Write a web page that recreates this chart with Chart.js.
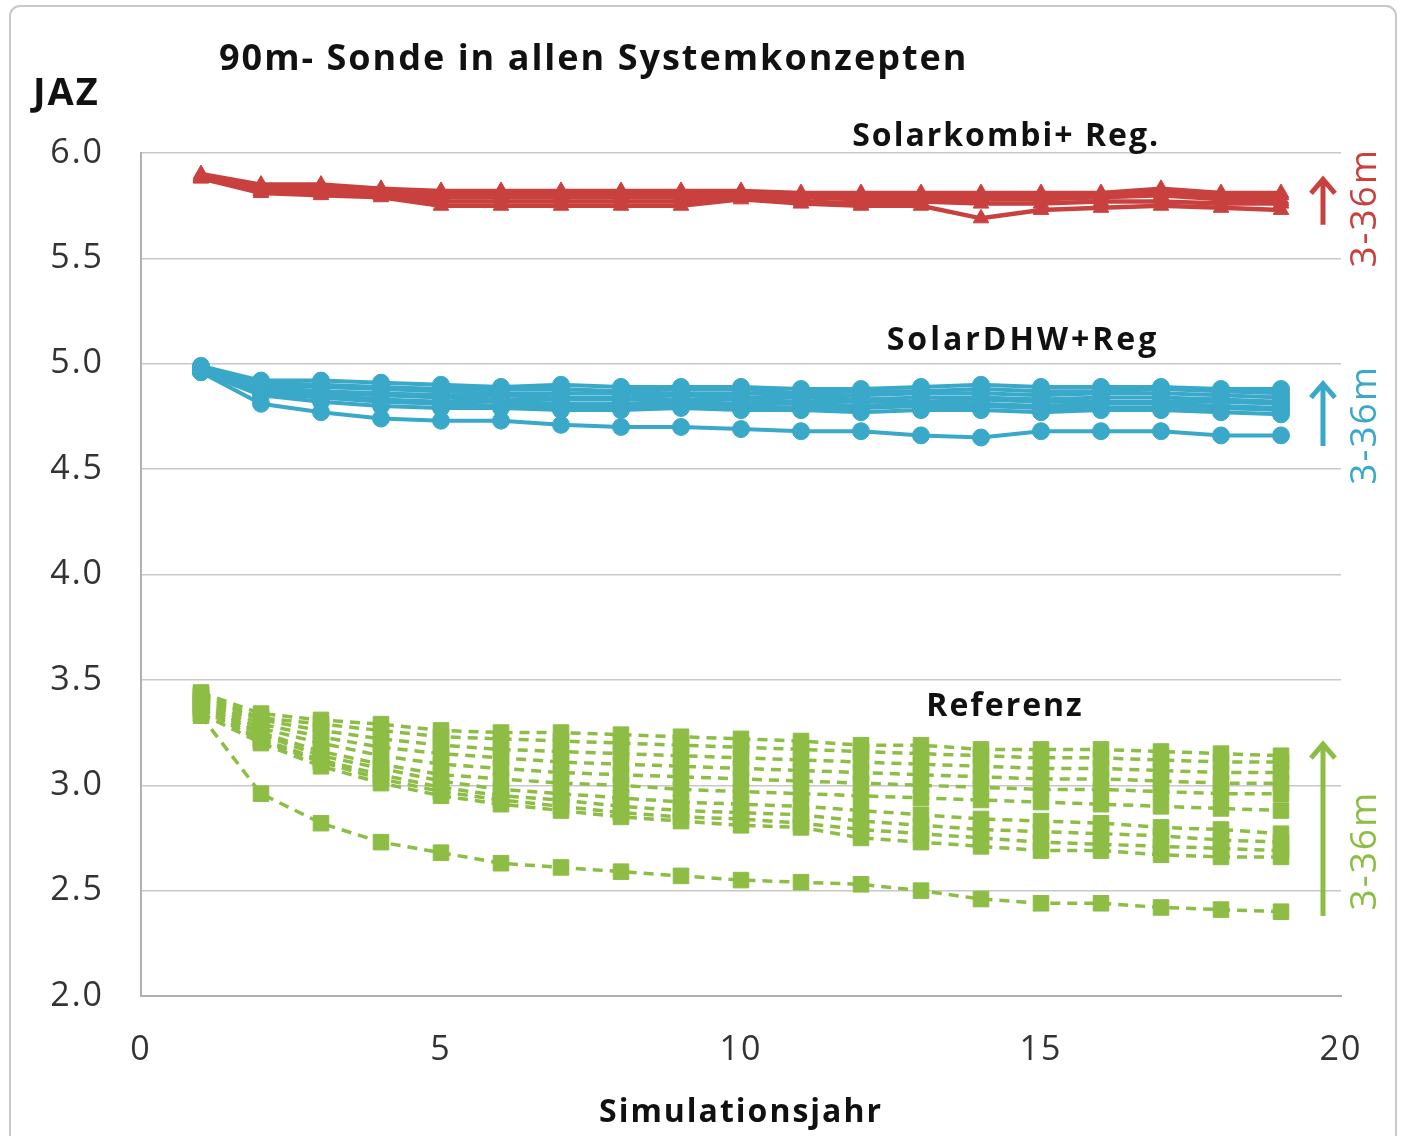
<!DOCTYPE html>
<html>
<head>
<meta charset="utf-8">
<script src="https://cdn.jsdelivr.net/npm/chart.js@4.4.1/dist/chart.umd.min.js"></script>
<style>
  html, body { margin: 0; padding: 0; background: #fff; }
  canvas { display: block; }
</style>
</head>
<body>
<canvas id="myChart" width="1401" height="1136"></canvas>
<script>
// Simulationsjahr 1..19
const years = [1, 2, 3, 4, 5, 6, 7, 8, 9, 10, 11, 12, 13, 14, 15, 16, 17, 18, 19];
const xTicks = [0, 5, 10, 15, 20];
const yTicks = [2.0, 2.5, 3.0, 3.5, 4.0, 4.5, 5.0, 5.5, 6.0];

// Solarkombi+ Reg. (triangles)
const red1 = [5.90, 5.85, 5.85, 5.83, 5.82, 5.82, 5.82, 5.82, 5.82, 5.82, 5.81, 5.81, 5.81, 5.81, 5.81, 5.81, 5.83, 5.81, 5.81];
const red2 = [5.89, 5.84, 5.84, 5.82, 5.81, 5.81, 5.81, 5.81, 5.81, 5.81, 5.80, 5.80, 5.80, 5.80, 5.80, 5.80, 5.82, 5.80, 5.80];
const red3 = [5.89, 5.83, 5.83, 5.81, 5.80, 5.80, 5.80, 5.80, 5.80, 5.80, 5.80, 5.79, 5.79, 5.79, 5.79, 5.80, 5.81, 5.79, 5.78];
const red4 = [5.88, 5.82, 5.82, 5.80, 5.79, 5.79, 5.79, 5.79, 5.79, 5.79, 5.79, 5.78, 5.78, 5.78, 5.78, 5.79, 5.80, 5.78, 5.77];
const red5 = [5.88, 5.82, 5.81, 5.80, 5.77, 5.77, 5.77, 5.77, 5.77, 5.79, 5.77, 5.76, 5.77, 5.76, 5.76, 5.77, 5.77, 5.76, 5.76];
const red6 = [5.88, 5.81, 5.80, 5.79, 5.75, 5.75, 5.75, 5.75, 5.75, 5.78, 5.76, 5.75, 5.75, 5.69, 5.73, 5.74, 5.75, 5.74, 5.73];

// SolarDHW+Reg (circles)
const blue1 = [4.99, 4.92, 4.92, 4.91, 4.90, 4.89, 4.90, 4.89, 4.89, 4.89, 4.88, 4.88, 4.89, 4.90, 4.89, 4.89, 4.89, 4.88, 4.88];
const blue2 = [4.98, 4.91, 4.90, 4.89, 4.88, 4.88, 4.88, 4.87, 4.88, 4.88, 4.86, 4.87, 4.87, 4.88, 4.87, 4.87, 4.88, 4.87, 4.86];
const blue3 = [4.98, 4.90, 4.89, 4.88, 4.87, 4.86, 4.86, 4.86, 4.86, 4.86, 4.85, 4.85, 4.86, 4.86, 4.85, 4.86, 4.86, 4.85, 4.84];
const blue4 = [4.97, 4.89, 4.87, 4.86, 4.85, 4.85, 4.84, 4.84, 4.85, 4.84, 4.84, 4.83, 4.84, 4.84, 4.83, 4.84, 4.84, 4.83, 4.82];
const blue5 = [4.97, 4.88, 4.86, 4.85, 4.84, 4.83, 4.83, 4.83, 4.83, 4.83, 4.82, 4.82, 4.82, 4.83, 4.82, 4.82, 4.82, 4.82, 4.81];
const blue6 = [4.97, 4.87, 4.85, 4.83, 4.82, 4.82, 4.81, 4.81, 4.82, 4.81, 4.81, 4.80, 4.81, 4.81, 4.80, 4.81, 4.81, 4.80, 4.79];
const blue7 = [4.97, 4.86, 4.84, 4.82, 4.81, 4.80, 4.80, 4.80, 4.80, 4.80, 4.79, 4.79, 4.80, 4.80, 4.79, 4.79, 4.79, 4.79, 4.78];
const blue8 = [4.96, 4.85, 4.82, 4.80, 4.79, 4.79, 4.78, 4.78, 4.79, 4.78, 4.78, 4.77, 4.78, 4.78, 4.77, 4.78, 4.78, 4.77, 4.76];
const blue9 = [4.96, 4.81, 4.77, 4.74, 4.73, 4.73, 4.71, 4.70, 4.70, 4.69, 4.68, 4.68, 4.66, 4.65, 4.68, 4.68, 4.68, 4.66, 4.66];

// Referenz (squares, dashed)
const green1 = [3.44, 3.34, 3.31, 3.29, 3.26, 3.25, 3.25, 3.24, 3.23, 3.22, 3.21, 3.19, 3.19, 3.17, 3.17, 3.17, 3.16, 3.15, 3.14];
const green2 = [3.43, 3.32, 3.29, 3.26, 3.23, 3.22, 3.21, 3.20, 3.19, 3.18, 3.17, 3.16, 3.15, 3.14, 3.13, 3.13, 3.12, 3.11, 3.11];
const green3 = [3.42, 3.31, 3.26, 3.22, 3.19, 3.17, 3.16, 3.15, 3.14, 3.13, 3.12, 3.11, 3.10, 3.09, 3.08, 3.08, 3.07, 3.06, 3.06];
const green4 = [3.41, 3.29, 3.23, 3.18, 3.15, 3.13, 3.11, 3.10, 3.09, 3.08, 3.07, 3.06, 3.05, 3.04, 3.03, 3.03, 3.02, 3.01, 3.01];
const green5 = [3.40, 3.27, 3.20, 3.14, 3.10, 3.08, 3.06, 3.05, 3.04, 3.03, 3.02, 3.01, 3.00, 2.99, 2.98, 2.98, 2.97, 2.96, 2.96];
const green6 = [3.39, 3.25, 3.16, 3.10, 3.05, 3.03, 3.01, 3.00, 2.98, 2.97, 2.96, 2.95, 2.94, 2.93, 2.92, 2.91, 2.90, 2.89, 2.88];
const green7 = [3.38, 3.24, 3.14, 3.08, 3.02, 2.98, 2.96, 2.94, 2.92, 2.91, 2.90, 2.88, 2.86, 2.84, 2.83, 2.82, 2.80, 2.79, 2.77];
const green8 = [3.37, 3.22, 3.12, 3.05, 2.99, 2.95, 2.93, 2.90, 2.88, 2.87, 2.86, 2.83, 2.81, 2.79, 2.78, 2.77, 2.76, 2.74, 2.73];
const green9 = [3.36, 3.21, 3.11, 3.03, 2.97, 2.93, 2.90, 2.87, 2.85, 2.84, 2.82, 2.79, 2.77, 2.75, 2.73, 2.72, 2.71, 2.70, 2.69];
const green10 = [3.34, 3.20, 3.09, 3.01, 2.95, 2.91, 2.88, 2.85, 2.83, 2.81, 2.80, 2.75, 2.73, 2.71, 2.69, 2.69, 2.67, 2.66, 2.66];
const green11 = [3.33, 2.96, 2.82, 2.73, 2.68, 2.63, 2.61, 2.59, 2.57, 2.55, 2.54, 2.53, 2.50, 2.46, 2.44, 2.44, 2.42, 2.41, 2.40];

const RED = '#c9413f';
const BLUE = '#3aa8c8';
const GREEN = '#8dbd45';
const FONT = "'Open Sans', sans-serif";

const toPoints = arr => arr.map((v, i) => ({ x: years[i], y: v }));

const greenSet = (arr) => ({
  data: toPoints(arr),
  borderColor: GREEN,
  backgroundColor: GREEN,
  borderWidth: 3.5,
  borderDash: [10, 7],
  pointStyle: 'rect',
  pointRadius: 11,
  pointBorderWidth: 1,
  tension: 0
});
const blueSet = (arr) => ({
  data: toPoints(arr),
  borderColor: BLUE,
  backgroundColor: BLUE,
  borderWidth: 4,
  pointStyle: 'circle',
  pointRadius: 8.5,
  pointBorderWidth: 1,
  tension: 0
});
const redSet = (arr) => ({
  data: toPoints(arr),
  borderColor: RED,
  backgroundColor: RED,
  borderWidth: 4.5,
  pointStyle: 'triangle',
  pointRadius: 9,
  pointBorderWidth: 1,
  tension: 0
});

const datasets = [
  ...[green1, green2, green3, green4, green5, green6, green7, green8, green9, green10, green11].map(greenSet),
  ...[blue1, blue2, blue3, blue4, blue5, blue6, blue7, blue8, blue9].map(blueSet),
  ...[red1, red2, red3, red4, red5, red6].map(redSet)
];

// wider glyph spacing, the original font is stretched a bit
const spacing = {
  id: 'spacing',
  beforeUpdate(chart) { chart.ctx.letterSpacing = '2px'; },
  beforeDraw(chart) { chart.ctx.letterSpacing = '2px'; }
};

// frame, title, labels, arrows
const decor = {
  id: 'decor',
  beforeDraw(chart) {
    const c = chart.ctx;
    c.save();
    c.strokeStyle = '#c8c8c8';
    c.lineWidth = 2;
    c.beginPath();
    c.roundRect(10, 6, 1386, 1160, 10);
    c.stroke();
    c.restore();
  },
  afterDatasetsDraw(chart) {
    const c = chart.ctx;
    const xs = chart.scales.x, ys = chart.scales.y;
    c.save();
    c.fillStyle = '#111';
    c.textBaseline = 'middle';
    c.letterSpacing = '2px';
    c.font = "bold 36px " + FONT;
    c.textAlign = 'left';
    c.fillText('90m- Sonde in allen Systemkonzepten', 219, 60);
    c.font = "bold 38px " + FONT;
    c.fillText('JAZ', 33, 94);
    c.textAlign = 'center';
    c.font = "bold 32px " + FONT;
    c.fillText('Solarkombi+ Reg.', xs.getPixelForValue(14.42), 137);
    c.fillText('Referenz', xs.getPixelForValue(14.4), ys.getPixelForValue(3.37));
    c.letterSpacing = '3px';
    c.fillText('SolarDHW+Reg', xs.getPixelForValue(14.7), ys.getPixelForValue(5.11));

    const arrows = [
      { col: RED, from: 5.66, to: 5.88, mid: 5.74 },
      { col: BLUE, from: 4.61, to: 4.91, mid: 4.71 },
      { col: GREEN, from: 2.38, to: 3.2, mid: 2.69 }
    ];
    const ax = xs.getPixelForValue(19.7);
    const tx = xs.getPixelForValue(20.4);
    arrows.forEach(a => {
      const y0 = ys.getPixelForValue(a.from), y1 = ys.getPixelForValue(a.to);
      c.strokeStyle = a.col;
      c.lineWidth = 5;
      c.lineCap = 'butt';
      c.beginPath();
      c.moveTo(ax, y0);
      c.lineTo(ax, y1 + 2);
      c.moveTo(ax - 12, y1 + 15);
      c.lineTo(ax, y1 + 1);
      c.lineTo(ax + 12, y1 + 15);
      c.stroke();
      c.save();
      c.translate(tx, ys.getPixelForValue(a.mid));
      c.rotate(-Math.PI / 2);
      c.fillStyle = a.col;
      c.letterSpacing = '2px';
      c.font = "37px " + FONT;
      c.fillText('3-36m', 0, 0);
      c.restore();
    });
    c.restore();
  }
};

const ctx = document.getElementById('myChart').getContext('2d');
const myChart = new Chart(ctx, {
  type: 'line',
  data: { datasets: datasets },
  options: {
    responsive: false,
    animation: false,
    layout: { padding: { left: 0, top: 153, right: 60, bottom: 0 } },
    plugins: {
      legend: { display: false },
      tooltip: { enabled: false }
    },
    scales: {
      x: {
        type: 'linear',
        min: 0,
        max: 20,
        afterBuildTicks: s => { s.ticks = xTicks.map(v => ({ value: v })); },
        afterFit: s => { s.height = 140; },
        grid: { display: false, drawTicks: false },
        border: { display: true, color: '#b0b0b0', width: 2 },
        ticks: { color: '#333', font: { size: 34, family: FONT }, padding: 34 },
        title: {
          display: true,
          text: 'Simulationsjahr',
          color: '#111',
          font: { size: 32, weight: 'bold', family: FONT },
          padding: { top: 10 }
        }
      },
      y: {
        type: 'linear',
        min: 2,
        max: 6,
        afterBuildTicks: s => { s.ticks = yTicks.map(v => ({ value: v })); },
        afterFit: s => { s.width = 141; },
        grid: { color: '#c8c8c8', lineWidth: 1.5, drawTicks: false },
        border: { display: true, color: '#b0b0b0', width: 2 },
        ticks: {
          color: '#333',
          font: { size: 34, family: FONT },
          padding: 37,
          callback: v => Number(v).toFixed(1)
        }
      }
    }
  },
  plugins: [spacing, decor]
});
</script>
</body>
</html>
